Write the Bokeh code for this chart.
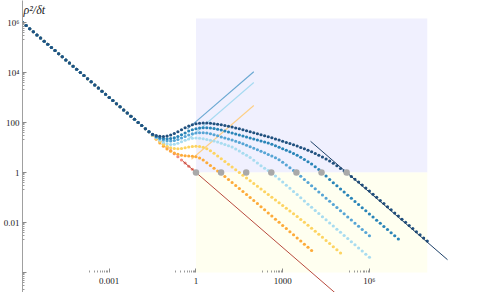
import numpy as np
from bokeh.plotting import figure
from bokeh.models import FixedTicker, BoxAnnotation, Label, Range1d
from bokeh.embed import file_html
from bokeh.resources import INLINE

# ---------------- data (log10 values) ----------------
STEP = 0.125          # spacing of the sample points in log10(omega0 dt)
LEAD_START = -6.0     # first sample, log10(omega0 dt)

# common descending branch shared by every series, log10(rho^2/dt), x = -6 ... -1.625
lead_logy = [6.0, 5.88, 5.75, 5.63, 5.5, 5.38, 5.25, 5.13, 5.0, 4.88, 4.75, 4.63,
             4.5, 4.38, 4.25, 4.13, 4.0, 3.88, 3.75, 3.63, 3.5, 3.38, 3.25, 3.13,
             3.0, 2.88, 2.75, 2.63, 2.5, 2.38, 2.25, 2.13, 2.0, 1.88, 1.75, 1.63]

# continuation of each series from log10(x) = -1.5 onward
red_logy = [1.5, 1.38, 1.25, 1.13, 1.0, 0.88, 0.75, 0.63, 0.5, 0.38, 0.25, 0.13, 0.0]

orange_logy = [1.48, 1.33, 1.18, 1.05, 0.94, 0.85, 0.78, 0.73, 0.69, 0.67, 0.66, 0.65,
               0.63, 0.58, 0.50, 0.39, 0.28, 0.17, 0.06, -0.05, -0.16, -0.28, -0.40,
               -0.52, -0.64, -0.76, -0.88, -1.00, -1.12, -1.24, -1.37, -1.49, -1.62,
               -1.74, -1.87, -1.99, -2.12, -2.24, -2.37, -2.49, -2.62, -2.74, -2.87,
               -2.99, -3.12]

yellow_logy = [1.49, 1.36, 1.24, 1.13, 1.05, 0.99, 0.96, 0.95, 0.96, 0.99, 1.02, 1.04,
               1.05, 1.04, 1.01, 0.95, 0.87, 0.77, 0.66, 0.55, 0.44, 0.33, 0.22, 0.11,
               0.00, -0.11, -0.22, -0.33, -0.44, -0.55, -0.66, -0.77, -0.88, -0.99,
               -1.10, -1.21, -1.32, -1.43, -1.54, -1.65, -1.76, -1.88, -1.99, -2.11,
               -2.23, -2.35, -2.47, -2.59, -2.72, -2.84, -2.97, -3.09, -3.22]

pale_logy = [1.50, 1.39, 1.29, 1.21, 1.15, 1.12, 1.13, 1.17, 1.23, 1.29, 1.34, 1.37,
             1.38, 1.37, 1.35, 1.32, 1.29, 1.26, 1.22, 1.17, 1.12, 1.07, 1.02, 0.94,
             0.86, 0.77, 0.69, 0.60, 0.49, 0.38, 0.27, 0.17, 0.08, -0.02, -0.14, -0.26,
             -0.38, -0.51, -0.63, -0.76, -0.88, -1.01, -1.14, -1.27, -1.39, -1.52,
             -1.64, -1.77, -1.89, -2.02, -2.14, -2.27, -2.39, -2.52, -2.64, -2.77,
             -2.89, -3.02, -3.14, -3.27, -3.39]

steel_logy = [1.51, 1.42, 1.35, 1.30, 1.27, 1.26, 1.28, 1.32, 1.38, 1.44, 1.50, 1.55,
              1.58, 1.59, 1.59, 1.58, 1.55, 1.51, 1.47, 1.42, 1.38, 1.34, 1.30, 1.25,
              1.20, 1.15, 1.09, 1.03, 0.97, 0.91, 0.85, 0.79, 0.72, 0.66, 0.59, 0.51,
              0.41, 0.30, 0.19, 0.08, -0.03, -0.15, -0.28, -0.40, -0.53, -0.65, -0.78,
              -0.90, -1.03, -1.15, -1.28, -1.40, -1.53, -1.65, -1.78, -1.90, -2.03,
              -2.15, -2.28, -2.40, -2.53]

blue_logy = [1.52, 1.44, 1.39, 1.36, 1.35, 1.36, 1.39, 1.44, 1.51, 1.58, 1.66, 1.71,
             1.75, 1.78, 1.79, 1.79, 1.78, 1.76, 1.73, 1.70, 1.66, 1.62, 1.58, 1.54,
             1.50, 1.46, 1.42, 1.38, 1.34, 1.30, 1.26, 1.22, 1.18, 1.13, 1.07, 1.01,
             0.95, 0.89, 0.83, 0.76, 0.69, 0.61, 0.52, 0.43, 0.34, 0.23, 0.12, 0.00,
             -0.14, -0.28, -0.41, -0.53, -0.66, -0.78, -0.91, -1.03, -1.16, -1.28,
             -1.41, -1.53, -1.66, -1.78, -1.91, -2.03, -2.16, -2.28, -2.41, -2.53, -2.66]

navy_logy = [1.53, 1.48, 1.45, 1.44, 1.46, 1.50, 1.56, 1.63, 1.71, 1.79, 1.86, 1.91,
             1.95, 1.97, 1.98, 1.98, 1.97, 1.95, 1.93, 1.91, 1.88, 1.85, 1.82, 1.78,
             1.75, 1.71, 1.67, 1.63, 1.59, 1.55, 1.51, 1.47, 1.43, 1.39, 1.34, 1.30,
             1.25, 1.20, 1.16, 1.11, 1.06, 1.00, 0.95, 0.89, 0.83, 0.76, 0.69, 0.62,
             0.54, 0.46, 0.37, 0.27, 0.16, 0.06, -0.05, -0.16, -0.27, -0.38, -0.50,
             -0.62, -0.74, -0.87, -0.99, -1.12, -1.24, -1.37, -1.49, -1.62, -1.74,
             -1.87, -1.99, -2.12, -2.24, -2.37, -2.49, -2.62, -2.74]

# straight reference lines (end points)
red_line_x, red_line_y = [0.35, 1e6], [2.86, 1e-6]
navy_line_x, navy_line_y = [9.2e3, 1e9], [17.7, 1.63e-4]
ballistic_hi_x, ballistic_hi_y = [0.5, 100], [54, 10700]
ballistic_mid_x, ballistic_mid_y = [0.5, 100], [20, 3980]
ballistic_lo_x, ballistic_lo_y = [0.7, 100], [3.4, 480]

# crossover markers
gray_x = [1.0, 7.39, 54.6, 403, 2981, 22026, 162755]
gray_y = [1, 1, 1, 1, 1, 1, 1]

# axis ticks
x_ticks = [1e-3, 1, 1e3, 1e6]
x_labels = {1e-3: "0.001", 1: "1", 1e3: "1000", 1e6: "10\u2076"}
y_ticks = [1e-4, 1e-2, 1, 1e2, 1e4, 1e6]
y_labels = {1e-4: "", 1e-2: "0.01", 1: "1", 1e2: "100", 1e4: "10\u2074", 1e6: "10\u2076"}

SERIF = "Liberation Serif"

# ---------------- figure ----------------
p = figure(width=482, height=292, x_axis_type="log", y_axis_type="log",
           x_range=Range1d(1e-6, 10 ** 8.7), y_range=Range1d(10 ** -4.8, 10 ** 6.88),
           output_backend="svg", toolbar_location=None,
           min_border_left=0, min_border_right=35, min_border_top=0, min_border_bottom=0)
p.grid.visible = False
p.outline_line_color = None

p.add_layout(BoxAnnotation(left=1, right=1e8, bottom=1, top=10 ** 6.16,
                           fill_color="#f0f0fe", fill_alpha=1, line_color=None, level="underlay"))
p.add_layout(BoxAnnotation(left=1, right=1e8, bottom=1e-4, top=1,
                           fill_color="#fffff0", fill_alpha=1, line_color=None, level="underlay"))

# ballistic lines
p.line(ballistic_hi_x, ballistic_hi_y, line_color="#6aa8d2", line_width=1.1)
p.line(ballistic_mid_x, ballistic_mid_y, line_color="#a6daf1", line_width=1.1)
p.line(ballistic_lo_x, ballistic_lo_y, line_color="#fdcf86", line_width=1.1)


def pts(tail):
    logy = np.array(lead_logy + tail)
    logx = LEAD_START + STEP * np.arange(len(logy))
    return 10 ** logx, 10 ** logy


for tail, col in [(red_logy, "#f38a7e"), (orange_logy, "#fdab3a"), (yellow_logy, "#fdd462"),
                  (pale_logy, "#a8dcf0"), (steel_logy, "#57a5d5"), (blue_logy, "#2a85b8"),
                  (navy_logy, "#21517f")]:
    xs, ys = pts(tail)
    p.scatter(xs, ys, size=3.2, fill_color=col, line_color=None)

p.line(red_line_x, red_line_y, line_color="#b84a3e", line_width=1)
p.line(navy_line_x, navy_line_y, line_color="#1d4068", line_width=1)
p.scatter(gray_x, gray_y, size=6.5, fill_color="#a9a9a9", line_color=None)

# axes
xa, ya = p.xaxis[0], p.yaxis[0]
xa.fixed_location = 1e-4
xa.ticker = FixedTicker(ticks=x_ticks, minor_ticks=[k * t / 10 for t in x_ticks for k in range(2, 10)])
ya.ticker = FixedTicker(ticks=y_ticks, minor_ticks=[k * t / 10 for t in y_ticks for k in range(2, 10)])
xa.major_label_overrides = x_labels
ya.major_label_overrides = y_labels
for ax in (xa, ya):
    ax.major_tick_in = 4
    ax.major_tick_out = 0
    ax.minor_tick_in = 2
    ax.minor_tick_out = 0
    ax.major_tick_line_color = "#8a8a8a"
    ax.minor_tick_line_color = "#9a9a9a"
    ax.major_label_text_font = SERIF
    ax.major_label_text_font_size = "9px"
    ax.major_label_text_color = "#222222"
    ax.major_label_standoff = 3
    ax.axis_line_color = "#a0a0a0"
xa.axis_line_color = None

p.add_layout(Label(x=1e-6, y=10 ** 6.88, x_offset=1, y_offset=-2, text="\u03c1\u00b2/\u03b4t",
                   text_baseline="top", text_font=SERIF, text_font_style="italic",
                   text_font_size="12px", text_color="#222222"))
p.add_layout(Label(x=10 ** 8.7, y=10 ** -3.6, x_offset=8, text="\u03c9\u2080\u03b4t",
                   text_baseline="middle", text_font=SERIF, text_font_style="italic",
                   text_font_size="11px", text_color="#222222"))

open("out.html", "w").write(file_html(p, INLINE))
